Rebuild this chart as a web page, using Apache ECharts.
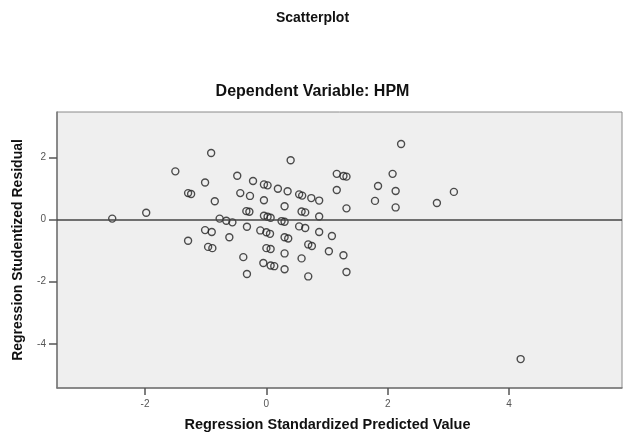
<!DOCTYPE html>
<html>
<head>
<meta charset="utf-8">
<script src="https://cdn.jsdelivr.net/npm/echarts@6/dist/echarts.min.js"></script>
<style>
html,body{margin:0;padding:0;background:#fff;}
#c{width:625px;height:432px;}
</style>
</head>
<body>
<div id="c"></div>
<script>
// Regression standardized predicted values (x) and studentized residuals (y)
const predicted = [
  -2.54, -1.98, -0.91, -1.50, -1.01, -1.29, -1.24, -0.85, -0.77, -0.66,
  -0.56, -1.01, -0.90, -1.29, -0.96, -0.89, -0.61, -0.48, -0.22, -0.43,
  -0.27, -0.04, 0.02, -0.04, -0.33, -0.28, -0.04, 0.02, 0.07, -0.32,
  -0.10, 0.00, 0.06, -0.38, 0.00, 0.07, -0.05, 0.07, 0.13, -0.32,
  0.40, 0.19, 0.35, 0.54, 0.59, 0.74, 0.87, 0.30, 0.58, 0.64,
  0.87, 0.25, 0.30, 0.54, 0.64, 0.87, 1.08, 0.30, 0.36, 0.69,
  0.75, 1.03, 0.30, 0.58, 0.30, 0.69, 1.16, 1.27, 1.32, 1.16,
  2.22, 2.08, 1.84, 2.13, 3.09, 2.81, 1.79, 2.13, 1.32, 1.27,
  1.32, 4.19
];
const residual = [
  0.03, 0.22, 2.14, 1.55, 1.19, 0.85, 0.82, 0.59, 0.03, -0.04,
  -0.09, -0.34, -0.40, -0.68, -0.88, -0.92, -0.57, 1.41, 1.24, 0.85,
  0.76, 1.13, 1.10, 0.62, 0.27, 0.25, 0.12, 0.09, 0.06, -0.23,
  -0.35, -0.41, -0.46, -1.21, -0.92, -0.95, -1.40, -1.48, -1.50, -1.75,
  1.91, 0.99, 0.91, 0.81, 0.77, 0.69, 0.61, 0.43, 0.26, 0.23,
  0.10, -0.05, -0.07, -0.22, -0.27, -0.40, -0.53, -0.57, -0.61, -0.80,
  -0.85, -1.02, -1.09, -1.25, -1.60, -1.83, 1.47, 1.40, 1.38, 0.95,
  2.43, 1.47, 1.08, 0.92, 0.89, 0.53, 0.60, 0.39, 0.36, -1.15,
  -1.69, -4.49
];
const xTicks = [-2, 0, 2, 4];
const yTicks = [-4, -2, 0, 2];
const referenceY = 0;

const points = predicted.map((v, i) => [v, residual[i]]);

const chart = echarts.init(document.getElementById('c'), null, {renderer: 'canvas'});
const axisFont = 'Arial, "Liberation Sans", sans-serif';
chart.setOption({
  backgroundColor: '#ffffff',
  animation: false,
  title: [
    {text: 'Scatterplot', left: 'center', top: 6,
     textStyle: {fontFamily: axisFont, fontSize: 14, fontWeight: 'bold', color: '#111'}},
    {text: 'Dependent Variable: HPM', left: 'center', top: 79,
     textStyle: {fontFamily: axisFont, fontSize: 16, fontWeight: 'bold', color: '#111'}}
  ],
  grid: {left: 57, right: 3, top: 112, bottom: 44, show: true,
         outerBoundsMode: 'none', containLabel: false,
         backgroundColor: '#efefef', borderColor: '#8a8a8a', borderWidth: 1},
  xAxis: {
    type: 'value', min: -3.45, max: 5.86,
    name: 'Regression Standardized Predicted Value', nameLocation: 'middle', nameGap: 29,
    nameTextStyle: {fontFamily: axisFont, fontSize: 14.5, fontWeight: 'bold', color: '#111',
                    padding: [0, 24, 0, 0]},
    axisLine: {show: true, onZero: false, lineStyle: {color: '#777', width: 1.5}},
    axisTick: {show: true, length: 7, customValues: xTicks, lineStyle: {color: '#555', width: 1.5}},
    axisLabel: {customValues: xTicks, fontFamily: axisFont, fontSize: 10, color: '#555', margin: 11},
    splitLine: {show: false}
  },
  yAxis: {
    type: 'value', min: -5.42, max: 3.46,
    name: 'Regression Studentized Residual', nameLocation: 'middle', nameGap: 32,
    nameTextStyle: {fontFamily: axisFont, fontSize: 14, fontWeight: 'bold', color: '#111'},
    axisLine: {show: true, onZero: false, lineStyle: {color: '#777', width: 1.5}},
    axisTick: {show: true, length: 8, customValues: yTicks, lineStyle: {color: '#555', width: 1.5}},
    axisLabel: {customValues: yTicks, fontFamily: axisFont, fontSize: 10, color: '#555', margin: 11},
    splitLine: {show: false}
  },
  series: [{
    type: 'scatter',
    data: points,
    symbol: 'circle',
    symbolSize: 7,
    itemStyle: {color: 'rgba(0,0,0,0)', borderColor: '#222', borderWidth: 1.4},
    markLine: {
      silent: true, symbol: 'none', label: {show: false},
      lineStyle: {color: '#444', width: 1.5, type: 'solid'},
      data: [{yAxis: referenceY}]
    },
    z: 3
  }]
});
</script>
</body>
</html>
